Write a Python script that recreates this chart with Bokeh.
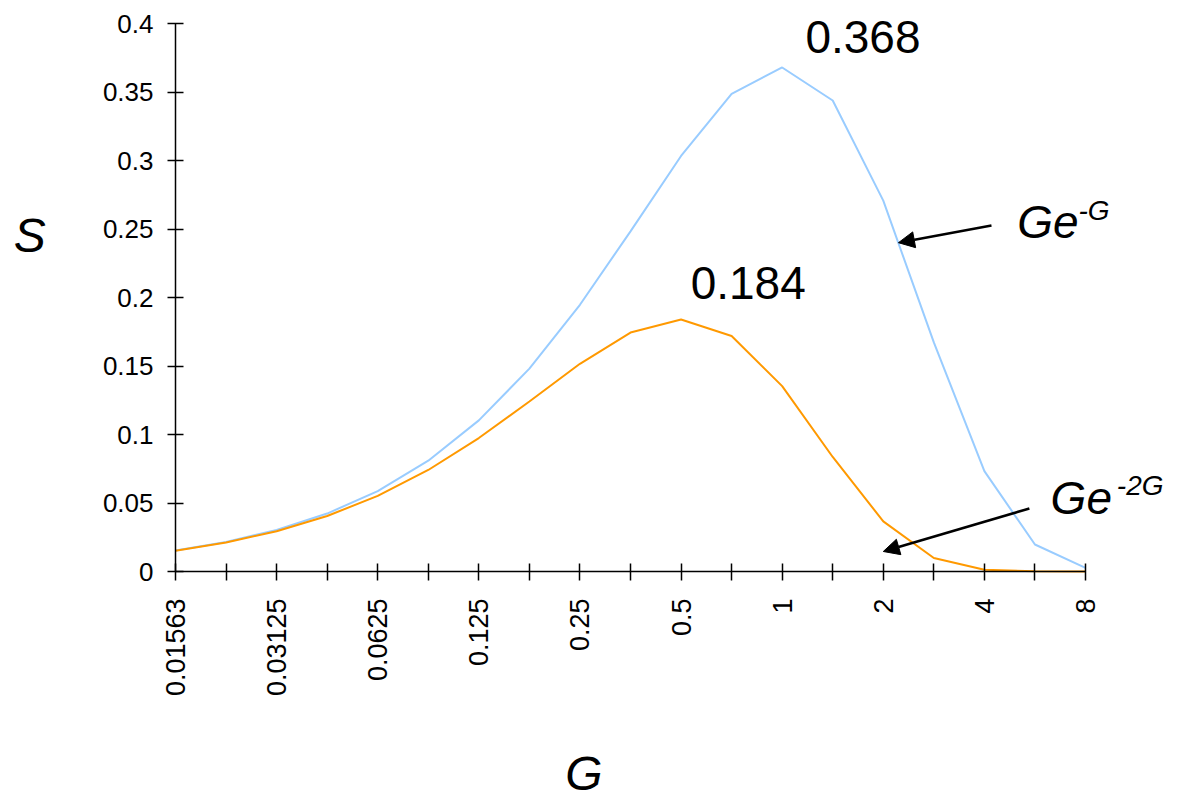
import math
from bokeh.plotting import figure
from bokeh.models import FixedTicker, CustomJSTickFormatter, Label, Arrow, NormalHead, Range1d
from bokeh.embed import file_html
from bokeh.resources import INLINE

# Data
g_values = [0.015625, 0.0221, 0.03125, 0.0442, 0.0625, 0.0884, 0.125, 0.1768, 0.25,
            0.3536, 0.5, 0.7071, 1, 1.414, 2, 2.828, 4, 5.657, 8]
tick_labels = ["0.01563", "", "0.03125", "", "0.0625", "", "0.125", "", "0.25", "",
               "0.5", "", "1", "", "2", "", "4", "", "8"]
s_ge_g = [0.0154, 0.0216, 0.0303, 0.0423, 0.0587, 0.0809, 0.1103, 0.1481, 0.1947,
          0.2483, 0.3033, 0.3487, 0.3679, 0.3438, 0.2707, 0.1672, 0.0733, 0.0197, 0.0027]
s_ge_2g = [0.0151, 0.0212, 0.0294, 0.0405, 0.0552, 0.0741, 0.0974, 0.1241, 0.1516,
           0.1744, 0.1839, 0.1719, 0.1353, 0.0836, 0.0366, 0.0099, 0.0013, 0.0001, 0.0]
y_ticks = [0, 0.05, 0.1, 0.15, 0.2, 0.25, 0.3, 0.35, 0.4]

idx = list(range(len(g_values)))
FONT = "Liberation Sans"

W, H = 1180, 802
PLOT_L, PLOT_R, PLOT_T, PLOT_B = 175, 1085, 23, 571   # where the axes sit on the canvas
px_x = (PLOT_R - PLOT_L) / (len(g_values) - 1)
px_y = (PLOT_B - PLOT_T) / 0.4

x_range = Range1d(-PLOT_L / px_x, (W - PLOT_L) / px_x)
y_range = Range1d(-(H - PLOT_B) / px_y, 0.4 + PLOT_T / px_y)

p = figure(width=W, height=H, x_range=x_range, y_range=y_range,
           output_backend="svg", toolbar_location=None,
           min_border_left=0, min_border_right=0, min_border_top=0, min_border_bottom=0)
p.outline_line_color = None
p.xgrid.visible = False
p.ygrid.visible = False
p.background_fill_color = "white"
p.border_fill_color = "white"

p.line(idx, s_ge_g, line_color="#99CCFF", line_width=2)
p.line(idx, s_ge_2g, line_color="#FF9900", line_width=2)

# axes
p.xaxis.fixed_location = 0
p.xaxis.bounds = (0, len(g_values) - 1)
p.xaxis.ticker = FixedTicker(ticks=idx)
p.xaxis.major_label_overrides = {i: t for i, t in zip(idx, tick_labels)}
p.xaxis.major_label_orientation = math.pi / 2
p.xaxis.minor_tick_line_color = None
p.xaxis.major_tick_in = 8
p.xaxis.major_tick_out = 9
p.xaxis.major_label_standoff = 18
p.xaxis.major_label_text_font_size = "27px"

p.yaxis.fixed_location = 0
p.yaxis.bounds = (0, 0.4)
p.yaxis.ticker = FixedTicker(ticks=y_ticks)
p.yaxis.formatter = CustomJSTickFormatter(code="return parseFloat(tick.toFixed(2)).toString();")
p.yaxis.minor_tick_line_color = None
p.yaxis.major_tick_in = 8
p.yaxis.major_tick_out = 8
p.yaxis.major_label_standoff = 14
p.yaxis.major_label_text_font_size = "26px"

for ax in (p.xaxis, p.yaxis):
    ax.major_label_text_font = FONT
    ax.major_label_text_color = "black"
    ax.axis_line_color = "black"
    ax.axis_line_width = 1.5
    ax.major_tick_line_color = "black"
    ax.major_tick_line_width = 1.5

def lab(x, y, text, size, style="normal"):
    p.add_layout(Label(x=x, y=y, text=text,
                       text_font=FONT, text_font_size=size, text_font_style=style,
                       text_color="black", text_align="left", text_baseline="middle"))

# peak value labels
lab(12.46, 0.3898, "0.368", "46px")
lab(10.19, 0.2109, "0.184", "46px")

# curve labels with superscripts
lab(16.65, 0.2553, "Ge", "46px", "italic")
lab(17.86, 0.2635, "-G", "28px", "italic")
lab(17.31, 0.0540, "Ge", "46px", "italic")
lab(18.62, 0.0628, "-2G", "28px", "italic")

# axis titles
lab(7.71, -0.1474, "G", "48px", "italic")
lab(-3.20, 0.2453, "S", "48px", "italic")

# arrows
p.add_layout(Arrow(end=NormalHead(size=16, fill_color="black", line_color="black"),
                   x_start=16.14, y_start=0.2526, x_end=14.30, y_end=0.240,
                   line_color="black", line_width=2.5))
p.add_layout(Arrow(end=NormalHead(size=16, fill_color="black", line_color="black"),
                   x_start=16.89, y_start=0.046, x_end=14.0, y_end=0.0146,
                   line_color="black", line_width=2.5))

open("out.html", "w").write(file_html(p, INLINE))
